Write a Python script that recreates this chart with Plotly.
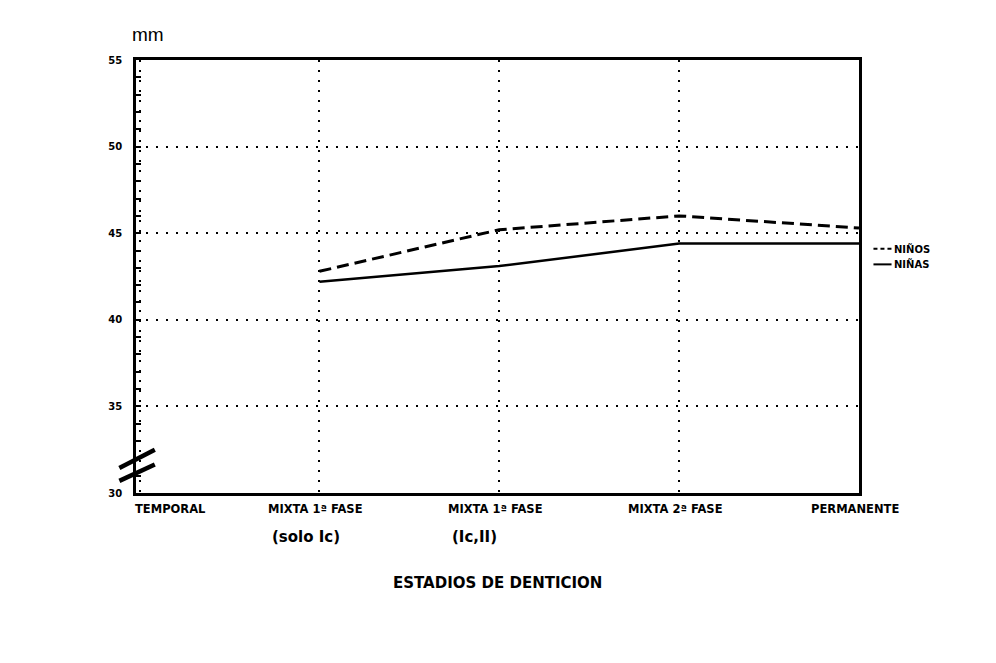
import plotly.graph_objects as go

# Data (mm)
stages = ["TEMPORAL", "MIXTA 1ª FASE", "MIXTA 1ª FASE", "MIXTA 2ª FASE", "PERMANENTE"]
stage_sub = ["", "(solo Ic)", "(Ic,II)", "", ""]
ninos = [None, 42.8, 45.2, 46.0, 45.3]
ninas = [None, 42.2, 43.1, 44.4, 44.4]
y_ticks = [30, 35, 40, 45, 50, 55]
legend_names = ["NIÑOS", "NIÑAS"]
legend_y = [44.1, 43.2]

x_idx = list(range(len(stages)))
bold = "DejaVu Sans"

fig = go.Figure()
fig.add_trace(go.Scatter(x=x_idx, y=ninos, mode="lines", name="NIÑOS",
                         line=dict(color="black", width=3, dash="12px,6px")))
fig.add_trace(go.Scatter(x=x_idx, y=ninas, mode="lines", name="NIÑAS",
                         line=dict(color="black", width=2.5)))

fig.update_layout(
    width=996, height=663,
    margin=dict(l=128, r=145, t=52, b=178),
    paper_bgcolor="white", plot_bgcolor="white",
    showlegend=False,
    font=dict(family=bold, color="black"),
)

fig.update_xaxes(
    range=[-0.02, 4.0], tickvals=x_idx, showticklabels=False,
    showline=True, linecolor="black", linewidth=2.5, mirror=True,
    showgrid=True, gridcolor="black", gridwidth=2, griddash="2px,8px",
    zeroline=False, ticks="",
)
fig.update_yaxes(
    range=[30, 55], tickvals=y_ticks,
    tickfont=dict(family=bold, size=10, weight="bold"),
    showline=True, linecolor="black", linewidth=2.5, mirror=True,
    showgrid=True, gridcolor="black", gridwidth=2, griddash="2px,8px",
    zeroline=False, ticks="inside", ticklen=5, tickwidth=1.5, tickcolor="black",
    minor=dict(dtick=1, ticks="inside", ticklen=5, tickwidth=1.5, tickcolor="black", showgrid=False),
    ticklabelstandoff=9,
)

# category labels under the axis
for i, lab in enumerate(stages):
    fig.add_annotation(x=i, y=0, xref="x", yref="paper", yanchor="top",
                       xanchor="left" if i == 0 else "center",
                       xshift=-7 if i == 0 else -4, yshift=-7,
                       text=lab, showarrow=False,
                       font=dict(family=bold, size=11.5, weight="bold"))
    if stage_sub[i]:
        fig.add_annotation(x=i, y=0, xref="x", yref="paper", yanchor="top",
                           xanchor="left", xshift=-49, yshift=-33,
                           text=stage_sub[i], showarrow=False,
                           font=dict(family=bold, size=15, weight="bold"))

fig.add_annotation(x=0.5, y=0, xref="paper", yref="paper", yanchor="top",
                   yshift=-79, text="ESTADIOS DE DENTICION", showarrow=False,
                   font=dict(family=bold, size=15, weight="bold"))
fig.add_annotation(x=0, y=1, xref="paper", yref="paper", xanchor="left", yanchor="bottom",
                   xshift=-6, yshift=13, text="mm", showarrow=False,
                   font=dict(family="Liberation Sans", size=19))

# axis break marks
for y0, y1 in [(31.45, 32.5), (30.7, 31.65)]:
    fig.add_shape(type="line", xref="paper", yref="y", x0=-0.023, x1=0.026, y0=y0, y1=y1,
                  line=dict(color="black", width=4.5))

# legend drawn at the right edge
for name, dash, yv in zip(legend_names, ["4px,3px", "solid"], legend_y):
    fig.add_shape(type="line", xref="paper", yref="y", x0=1.02, x1=1.045, y0=yv, y1=yv,
                  line=dict(color="black", width=2, dash=dash))
    fig.add_annotation(x=1.046, y=yv, xref="paper", yref="y", xanchor="left",
                       text=name, showarrow=False,
                       font=dict(family=bold, size=10, weight="bold"))

fig.write_html("out.html")
